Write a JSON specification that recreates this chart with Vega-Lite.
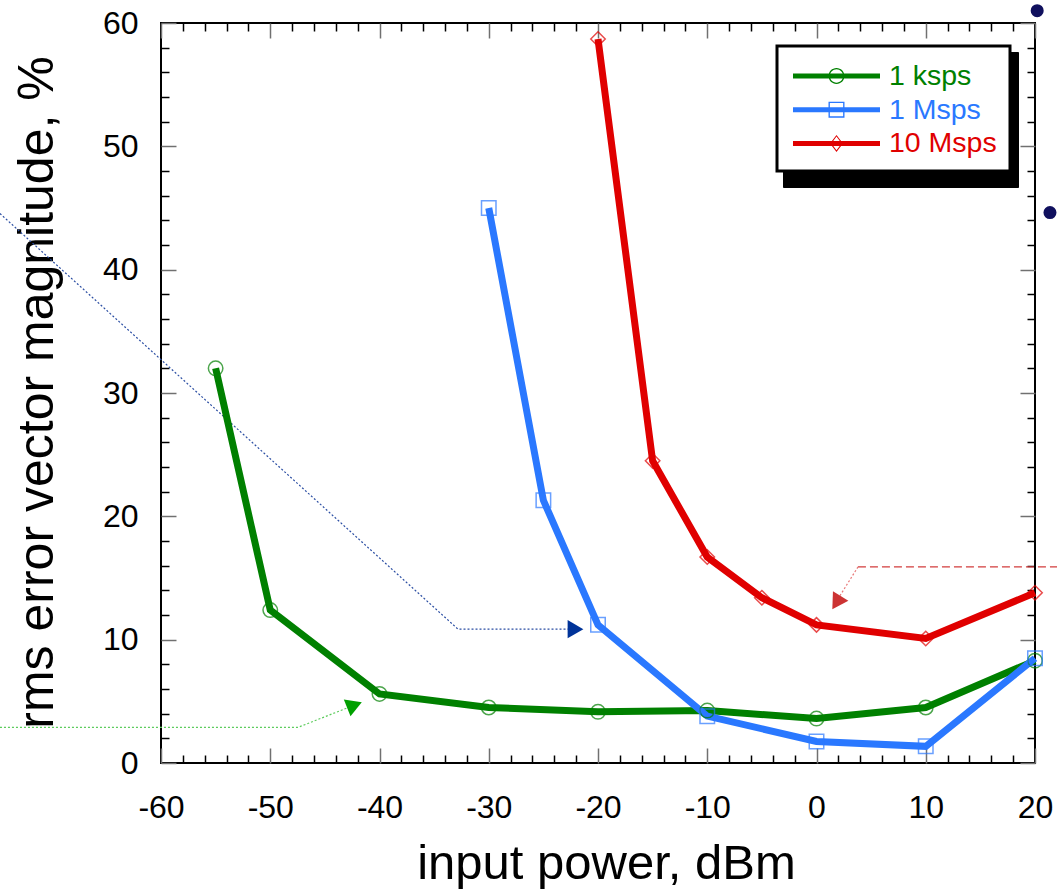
{
  "$schema": "https://vega.github.io/schema/vega-lite/v6.json",
  "width": 874,
  "height": 740,
  "autosize": {"type": "none"},
  "padding": {"left": 161, "top": 23, "right": 22, "bottom": 128},
  "background": "white",
  "config": {
    "view": {"stroke": "black", "strokeWidth": 2},
    "font": "Liberation Sans",
    "axis": {"grid": false, "domain": false, "labelFont": "Liberation Sans", "titleFont": "Liberation Sans", "labelColor": "black", "titleColor": "black", "titleFontWeight": "normal"},
    "legend": {"labelFont": "Liberation Sans", "labelFontSize": 28.5, "padding": 13, "symbolSize": 1156, "rowPadding": 1.7, "symbolOffset": 29.5, "labelOffset": 35.5, "orient": "none"}
  },
  "datasets": {
    "series": [
      {"rate": "1 ksps", "power": -55, "evm": 32},
      {"rate": "1 ksps", "power": -50, "evm": 12.4},
      {"rate": "1 ksps", "power": -40, "evm": 5.6},
      {"rate": "1 ksps", "power": -30, "evm": 4.5},
      {"rate": "1 ksps", "power": -20, "evm": 4.15},
      {"rate": "1 ksps", "power": -10, "evm": 4.25},
      {"rate": "1 ksps", "power": 0, "evm": 3.6},
      {"rate": "1 ksps", "power": 10, "evm": 4.5},
      {"rate": "1 ksps", "power": 20, "evm": 8.3},
      {"rate": "1 Msps", "power": -30, "evm": 45},
      {"rate": "1 Msps", "power": -25, "evm": 21.3},
      {"rate": "1 Msps", "power": -20, "evm": 11.2},
      {"rate": "1 Msps", "power": -10, "evm": 3.8},
      {"rate": "1 Msps", "power": 0, "evm": 1.75},
      {"rate": "1 Msps", "power": 10, "evm": 1.35},
      {"rate": "1 Msps", "power": 20, "evm": 8.5},
      {"rate": "10 Msps", "power": -20, "evm": 58.7},
      {"rate": "10 Msps", "power": -15, "evm": 24.5},
      {"rate": "10 Msps", "power": -10, "evm": 16.7},
      {"rate": "10 Msps", "power": -5, "evm": 13.4},
      {"rate": "10 Msps", "power": 0, "evm": 11.2},
      {"rate": "10 Msps", "power": 10, "evm": 10.1},
      {"rate": "10 Msps", "power": 20, "evm": 13.8}
    ],
    "notes": [
      {"note": "blue", "i": 0, "x": -74.74, "y": 44.55},
      {"note": "blue", "i": 1, "x": -32.81, "y": 10.85},
      {"note": "blue", "i": 2, "x": -22.75, "y": 10.85},
      {"note": "green", "i": 0, "x": -74.74, "y": 2.89},
      {"note": "green", "i": 1, "x": -47.46, "y": 2.89},
      {"note": "green", "i": 2, "x": -42.88, "y": 4.49},
      {"note": "redh", "i": 0, "x": 22.1, "y": 15.9},
      {"note": "redh", "i": 1, "x": 3.8, "y": 15.9},
      {"note": "redd", "i": 0, "x": 3.8, "y": 15.9},
      {"note": "redd", "i": 1, "x": 2.15, "y": 13.57}
    ],
    "arrows": [
      {"note": "blue", "x": -22.06, "y": 10.85},
      {"note": "green", "x": -42.29, "y": 4.7},
      {"note": "red", "x": 1.83, "y": 13.0}
    ],
    "bullets": [
      {"x": 20.2, "y": 61.0},
      {"x": 21.37, "y": 44.63}
    ]
  },
  "resolve": {"axis": {"x": "independent", "y": "independent"}},
  "layer": [
    {
      "data": {"name": "notes"},
      "transform": [{"filter": "datum.note === 'blue'"}],
      "mark": {"type": "line", "color": "#2b4ea3", "strokeWidth": 1.2, "strokeDash": [2, 2]},
      "encoding": {
        "x": {"field": "x", "type": "quantitative", "scale": {"domain": [-60, 20], "nice": false, "zero": false},
          "axis": {"orient": "bottom", "values": [-60, -50, -40, -30, -20, -10, 0, 10, 20], "tickSize": -15, "tickColor": "#707070", "tickWidth": 1.5, "labelFontSize": 32, "labelPadding": 44, "labelExpr": "'' + datum.value", "labelFlush": false, "labelOverlap": false, "labelBound": false, "title": "input power, dBm", "titleFontSize": 49, "titleX": 445, "titleY": 115, "titleBaseline": "alphabetic", "titleAlign": "center"}},
        "y": {"field": "y", "type": "quantitative", "scale": {"domain": [0, 60], "nice": false, "zero": false},
          "axis": {"orient": "left", "values": [0, 10, 20, 30, 40, 50, 60], "tickSize": -15, "tickColor": "#707070", "tickWidth": 1.5, "labelFontSize": 32, "labelPadding": 38, "labelFlush": false, "labelOverlap": false, "labelBound": false, "title": "rms error vector magnitude, %", "titleFontSize": 50, "titleX": -109, "titleY": 369, "titleAngle": -90, "titleBaseline": "alphabetic", "titleAlign": "center"}},
        "order": {"field": "i", "type": "quantitative"}
      }
    },
    {
      "data": {"name": "notes"},
      "transform": [{"filter": "datum.note === 'green'"}],
      "mark": {"type": "line", "color": "#5ccc5c", "strokeWidth": 1.2, "strokeDash": [2, 2]},
      "encoding": {
        "x": {"field": "x", "type": "quantitative", "scale": {"domain": [-60, 20], "nice": false, "zero": false},
          "axis": {"orient": "bottom", "values": [-58, -56, -54, -52, -48, -46, -44, -42, -38, -36, -34, -32, -28, -26, -24, -22, -18, -16, -14, -12, -8, -6, -4, -2, 2, 4, 6, 8, 12, 14, 16, 18], "tickSize": -8, "tickColor": "black", "tickWidth": 1.5, "labels": false, "title": null}},
        "y": {"field": "y", "type": "quantitative", "scale": {"domain": [0, 60], "nice": false, "zero": false},
          "axis": {"orient": "left", "values": [2, 4, 6, 8, 12, 14, 16, 18, 22, 24, 26, 28, 32, 34, 36, 38, 42, 44, 46, 48, 52, 54, 56, 58], "tickSize": -8, "tickColor": "black", "tickWidth": 1.5, "labels": false, "title": null}},
        "order": {"field": "i", "type": "quantitative"}
      }
    },
    {
      "data": {"name": "notes"},
      "transform": [{"filter": "datum.note === 'redh'"}],
      "mark": {"type": "line", "color": "#d23c3c", "strokeWidth": 1.4, "strokeDash": [8, 4]},
      "encoding": {
        "x": {"field": "x", "type": "quantitative", "scale": {"domain": [-60, 20], "nice": false, "zero": false},
          "axis": {"orient": "top", "values": [-60, -50, -40, -30, -20, -10, 0, 10, 20], "tickSize": -15, "tickColor": "#707070", "tickWidth": 1.5, "labels": false, "title": null}},
        "y": {"field": "y", "type": "quantitative", "scale": {"domain": [0, 60], "nice": false, "zero": false},
          "axis": {"orient": "right", "values": [0, 10, 20, 30, 40, 50, 60], "tickSize": -15, "tickColor": "#707070", "tickWidth": 1.5, "labels": false, "title": null}},
        "order": {"field": "i", "type": "quantitative"}
      }
    },
    {
      "data": {"name": "notes"},
      "transform": [{"filter": "datum.note === 'redd'"}],
      "mark": {"type": "line", "color": "#e87878", "strokeWidth": 1.2, "strokeDash": [2, 2]},
      "encoding": {
        "x": {"field": "x", "type": "quantitative", "scale": {"domain": [-60, 20], "nice": false, "zero": false},
          "axis": {"orient": "top", "values": [-58, -56, -54, -52, -48, -46, -44, -42, -38, -36, -34, -32, -28, -26, -24, -22, -18, -16, -14, -12, -8, -6, -4, -2, 2, 4, 6, 8, 12, 14, 16, 18], "tickSize": -8, "tickColor": "black", "tickWidth": 1.5, "labels": false, "title": null}},
        "y": {"field": "y", "type": "quantitative", "scale": {"domain": [0, 60], "nice": false, "zero": false},
          "axis": {"orient": "right", "values": [2, 4, 6, 8, 12, 14, 16, 18, 22, 24, 26, 28, 32, 34, 36, 38, 42, 44, 46, 48, 52, 54, 56, 58], "tickSize": -8, "tickColor": "black", "tickWidth": 1.5, "labels": false, "title": null}},
        "order": {"field": "i", "type": "quantitative"}
      }
    },
    {
      "data": {"name": "series"},
      "mark": {"type": "point", "opacity": 0, "size": 10},
      "encoding": {
        "x": {"field": "power", "type": "quantitative", "scale": {"domain": [-60, 20], "nice": false, "zero": false}, "axis": null},
        "y": {"field": "evm", "type": "quantitative", "scale": {"domain": [0, 60], "nice": false, "zero": false}, "axis": null},
        "fill": {"field": "rate", "type": "nominal", "scale": {"range": ["transparent", "transparent", "transparent"]},
          "legend": {"title": null, "orient": "none", "legendX": 622, "legendY": 29, "fillColor": "black", "strokeColor": "black", "zindex": 1, "labelExpr": "''", "symbolOffset": 173, "labelOffset": 0, "symbolOpacity": 0,
            "encode": {"legend": {"update": {"strokeWidth": {"value": 3}}}}}}
      }
    },
    {
      "data": {"name": "series"},
      "mark": {"type": "line", "strokeWidth": 7},
      "encoding": {
        "x": {"field": "power", "type": "quantitative", "scale": {"domain": [-60, 20], "nice": false, "zero": false}, "axis": null},
        "y": {"field": "evm", "type": "quantitative", "scale": {"domain": [0, 60], "nice": false, "zero": false}, "axis": null},
        "stroke": {"field": "rate", "type": "nominal",
          "scale": {"domain": ["1 ksps", "1 Msps", "10 Msps"], "range": ["#008000", "#2a78ff", "#e00000"]},
          "legend": {"title": null, "orient": "none", "legendX": 616, "legendY": 23, "fillColor": "white", "strokeColor": "black", "zindex": 2,
            "encode": {
              "symbols": {
                "update": {
                "shape": [
                  {"test": "datum.value === '1 ksps'", "value": "M-2.559,-0.147L2.559,-0.147L2.559,0.147L-2.559,0.147Z M0.47,0A0.47,0.47 0 1,1 -0.47,0A0.47,0.47 0 1,1 0.47,0Z M0.39,0A0.39,0.39 0 1,0 -0.39,0A0.39,0.39 0 1,0 0.39,0Z"},
                  {"test": "datum.value === '1 Msps'", "value": "M-2.559,-0.147L2.559,-0.147L2.559,0.147L-2.559,0.147Z M-0.47,-0.47L0.47,-0.47L0.47,0.47L-0.47,0.47Z M-0.39,-0.39L-0.39,0.39L0.39,0.39L0.39,-0.39Z"},
                  {"value": "M-2.559,-0.147L2.559,-0.147L2.559,0.147L-2.559,0.147Z M0,-0.5L0.38,0L0,0.5L-0.38,0Z M0,-0.41L-0.3,0L0,0.41L0.3,0Z"}
                ],
                "fill": {"scale": "stroke", "field": "value"},
                "stroke": {"value": "transparent"},
                "strokeWidth": {"value": 0},
                "opacity": {"value": 1}
              }},
              "labels": {"update": {"fill": {"scale": "stroke", "field": "value"}}},
              "legend": {"update": {"strokeWidth": {"value": 3}}}
            }
          }
        }
      }
    },
    {
      "data": {"name": "series"},
      "mark": {"type": "point", "filled": false, "size": 210, "strokeWidth": 1.5},
      "encoding": {
        "x": {"field": "power", "type": "quantitative", "scale": {"domain": [-60, 20], "nice": false, "zero": false}, "axis": null},
        "y": {"field": "evm", "type": "quantitative", "scale": {"domain": [0, 60], "nice": false, "zero": false}, "axis": null},
        "stroke": {"field": "rate", "type": "nominal", "scale": {"domain": ["1 ksps", "1 Msps", "10 Msps"], "range": ["#008000", "#2a78ff", "#e00000"]}, "legend": null},
        "shape": {"field": "rate", "type": "nominal", "scale": {"domain": ["1 Msps", "10 Msps", "1 ksps"], "range": ["square", "diamond", "circle"]}, "legend": null}
      }
    },
    {
      "data": {"name": "arrows"},
      "transform": [{"filter": "datum.note === 'blue'"}],
      "mark": {"type": "point", "shape": "triangle-right", "filled": true, "size": 330, "color": "#003399", "opacity": 1, "angle": 0},
      "encoding": {
        "x": {"field": "x", "type": "quantitative", "scale": {"domain": [-60, 20], "nice": false, "zero": false}, "axis": null},
        "y": {"field": "y", "type": "quantitative", "scale": {"domain": [0, 60], "nice": false, "zero": false}, "axis": null}
      }
    },
    {
      "data": {"name": "arrows"},
      "transform": [{"filter": "datum.note === 'green'"}],
      "mark": {"type": "point", "shape": "triangle-right", "filled": true, "size": 330, "color": "#00a000", "opacity": 1, "angle": -21.5},
      "encoding": {
        "x": {"field": "x", "type": "quantitative", "scale": {"domain": [-60, 20], "nice": false, "zero": false}, "axis": null},
        "y": {"field": "y", "type": "quantitative", "scale": {"domain": [0, 60], "nice": false, "zero": false}, "axis": null}
      }
    },
    {
      "data": {"name": "arrows"},
      "transform": [{"filter": "datum.note === 'red'"}],
      "mark": {"type": "point", "shape": "triangle-right", "filled": true, "size": 330, "color": "#cc3333", "opacity": 1, "angle": 122},
      "encoding": {
        "x": {"field": "x", "type": "quantitative", "scale": {"domain": [-60, 20], "nice": false, "zero": false}, "axis": null},
        "y": {"field": "y", "type": "quantitative", "scale": {"domain": [0, 60], "nice": false, "zero": false}, "axis": null}
      }
    },
    {
      "data": {"name": "bullets"},
      "mark": {"type": "circle", "size": 170, "color": "#10105e", "opacity": 1},
      "encoding": {
        "x": {"field": "x", "type": "quantitative", "scale": {"domain": [-60, 20], "nice": false, "zero": false}, "axis": null},
        "y": {"field": "y", "type": "quantitative", "scale": {"domain": [0, 60], "nice": false, "zero": false}, "axis": null}
      }
    }
  ]
}
